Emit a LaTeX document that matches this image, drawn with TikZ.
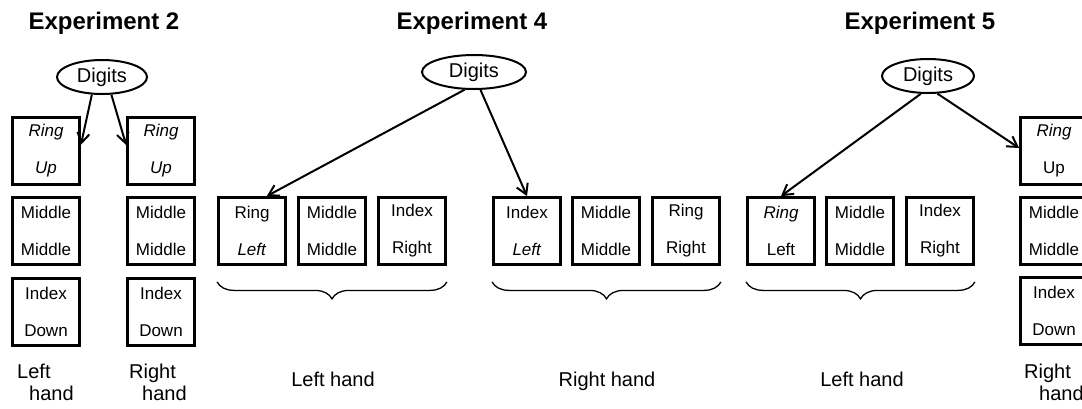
\documentclass[tikz,border=0pt]{standalone}
\usepackage{fontspec}
\setmainfont{Liberation Sans}
\usetikzlibrary{arrows.meta,decorations.pathreplacing,shapes.geometric}

\begin{document}
\begin{tikzpicture}[x=1pt,y=-1pt,
  cell/.style={draw,line width=2.8pt,minimum width=67pt,minimum height=67pt,inner sep=0pt,align=center,font=\fontsize{17}{37}\selectfont},
  dig/.style={draw,ellipse,line width=2pt,inner sep=0pt,minimum height=34pt,font=\fontsize{20}{24}\selectfont},
  ttl/.style={font=\fontsize{24}{28}\selectfont\bfseries},
  lbl/.style={font=\fontsize{20}{22}\selectfont,align=left,inner sep=0pt},
  arr/.style={-{Straight Barb[length=10pt,width=12pt]},line width=2pt},
  brc/.style={decorate,decoration={brace,amplitude=17pt,mirror},line width=1.3pt}]
  \clip (0,0) rectangle (1082,408);
  % Experiment 2
  \node[ttl] (t2) at (104,23) {Experiment 2};
  \node[dig,minimum width=90pt] (d2) at (102,77) {Digits};
  \node[cell] (a1) at (46,151) {\textit{Ring}\\\textit{Up}};
  \node[cell] (a2) at (46,231) {Middle\\Middle};
  \node[cell] (a3) at (46,312) {Index\\Down};
  \node[cell] (b1) at (161,151) {\textit{Ring}\\\textit{Up}};
  \node[cell] (b2) at (161,231) {Middle\\Middle};
  \node[cell] (b3) at (161,312) {Index\\Down};
  \draw[arr] (d2.-120) -- (a1.10);
  \draw[arr] (d2.-62) -- (b1.170);
  \node[lbl,anchor=north west] (l2a) at (17,364) {Left\\\hspace*{12pt}hand};
  \node[lbl,anchor=north west] (l2b) at (129,364) {Right\\\hspace*{13pt}hand};
  % Experiment 4
  \node[ttl] (t4) at (472,23) {Experiment 4};
  \node[dig,minimum width=104pt] (d4) at (474,72) {Digits};
  \node[cell] (c1) at (252,231) {Ring\\\textit{Left}};
  \node[cell] (c2) at (332,231) {Middle\\Middle};
  \node[cell] (c3) at (412,231) {Index\\Right};
  \node[cell] (c4) at (527,231) {Index\\\textit{Left}};
  \node[cell] (c5) at (606,231) {Middle\\Middle};
  \node[cell] (c6) at (686,231) {Ring\\Right};
  \draw[arr] (d4.-118) -- (c1.67);
  \draw[arr] (d4.-70) -- (c4.north);
  \draw[brc] ([yshift=-16pt]c1.south west) -- ([yshift=-16pt]c3.south east);
  \draw[brc] ([yshift=-16pt]c4.south west) -- ([yshift=-16pt]c6.south east);
  \node[lbl,anchor=base] (l4a) at (333,386) {Left hand};
  \node[lbl,anchor=base] (l4b) at (607,386) {Right hand};
  % Experiment 5
  \node[ttl] (t5) at (920,23) {Experiment 5};
  \node[dig,minimum width=92pt] (d5) at (928,76) {Digits};
  \node[cell] (e1) at (781,231) {\textit{Ring}\\Left};
  \node[cell] (e2) at (860,231) {Middle\\Middle};
  \node[cell] (e3) at (940,231) {Index\\Right};
  \node[cell] (f1) at (1054,151) {\textit{Ring}\\Up};
  \node[cell] (f2) at (1054,231) {Middle\\Middle};
  \node[cell] (f3) at (1054,311) {Index\\Down};
  \draw[arr] (d5.-112) -- (e1.north);
  \draw[arr] (d5.-62) -- (f1.175);
  \draw[brc] ([yshift=-16pt]e1.south west) -- ([yshift=-16pt]e3.south east);
  \node[lbl,anchor=base] (l5a) at (862,386) {Left hand};
  \node[lbl,anchor=north west] (l5b) at (1024,364) {Right\\\hspace*{15pt}hand};
\end{tikzpicture}
\end{document}
